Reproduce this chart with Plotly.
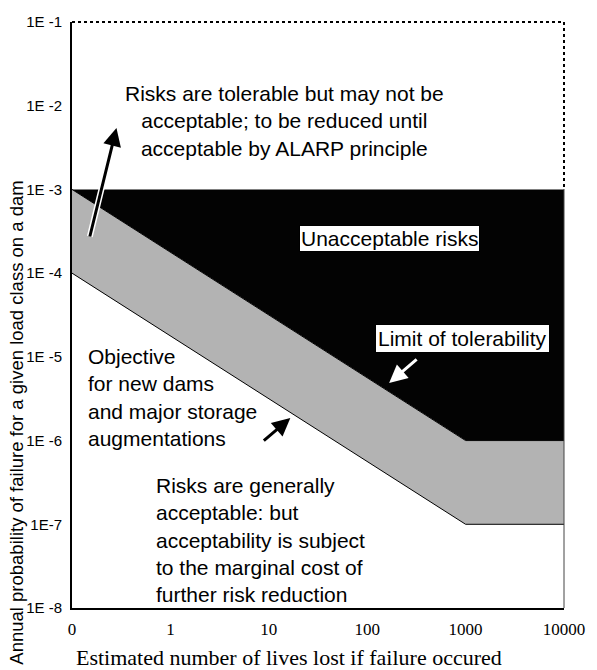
import plotly.graph_objects as go

# ---- data ----
lives = [0.1, 1000, 10000]               # x breakpoints (0 shown at 0.1 on log axis)
unacceptable_top = [1e-3, 1e-3, 1e-3]    # top of shaded zone
limit_tolerability = [1e-3, 1e-6, 1e-6]  # limit of tolerability
objective_line = [1e-4, 1e-7, 1e-7]      # objective for new dams

x_major = [0.1, 1, 10, 100, 1000, 10000]
x_major_text = ["0", "1", "10", "100", "1000", "10000"]
y_major = [1e-8, 1e-7, 1e-6, 1e-5, 1e-4, 1e-3, 1e-2, 1e-1]
y_major_text = ["1E -8", "1E-7", "1E -6", "1E -5", "1E -4", "1E -3", "1E -2", "1E -1"]

W, H = 597, 670
L, R, T, B = 72, 570, 22, 608
PW, PH = R - L, B - T


def px(x):
    return (x - L) / PW


def py(y):
    return (B - y) / PH


# major + minor ticks in one array (minor ticks unlabeled)
x_tickvals, x_ticktext = [], []
for v, t in zip(x_major, x_major_text):
    x_tickvals.append(v)
    x_ticktext.append(t)
    if v < 10000:
        for m in range(2, 10):
            x_tickvals.append(v * m)
            x_ticktext.append("")
y_tickvals, y_ticktext = [], []
y_minor = []
for v, t in zip(y_major, y_major_text):
    y_tickvals.append(v)
    y_ticktext.append(t)
    if v < 1e-1:
        for m in range(2, 10):
            y_tickvals.append(v * m)
            y_ticktext.append("")
            y_minor.append(v * m)

fig = go.Figure()
fig.add_trace(go.Scatter(x=lives, y=unacceptable_top, mode="lines",
                         line=dict(width=0, color="black"), hoverinfo="skip", showlegend=False))
fig.add_trace(go.Scatter(x=lives, y=limit_tolerability, mode="lines", fill="tonexty",
                         fillcolor="#030303", line=dict(width=1, color="#030303"),
                         hoverinfo="skip", showlegend=False))
fig.add_trace(go.Scatter(x=lives, y=objective_line, mode="lines", fill="tonexty",
                         fillcolor="#b3b3b3", line=dict(width=1, color="black"),
                         hoverinfo="skip", showlegend=False))

# outward tick marks: line markers on hidden overlay axes, offset just outside the axis lines
XT_LEN, YT_MAJ, YT_MIN = 10, 10, 8
fig.add_trace(go.Scatter(x=x_tickvals, y=[-(XT_LEN / 2) / PH] * len(x_tickvals),
                         xaxis="x", yaxis="y2", mode="markers",
                         marker=dict(symbol="line-ns", size=XT_LEN, color="black",
                                     line=dict(width=2, color="black")),
                         cliponaxis=False, hoverinfo="skip", showlegend=False))
fig.add_trace(go.Scatter(x=[-(YT_MAJ / 2) / PW] * len(y_major), y=y_major,
                         xaxis="x2", yaxis="y", mode="markers",
                         marker=dict(symbol="line-ew", size=YT_MAJ, color="black",
                                     line=dict(width=2, color="black")),
                         cliponaxis=False, hoverinfo="skip", showlegend=False))
fig.add_trace(go.Scatter(x=[-(YT_MIN / 2) / PW] * len(y_minor), y=y_minor,
                         xaxis="x2", yaxis="y", mode="markers",
                         marker=dict(symbol="line-ew", size=YT_MIN, color="black",
                                     line=dict(width=1.5, color="black")),
                         cliponaxis=False, hoverinfo="skip", showlegend=False))

sans = "Liberation Sans, Arial, sans-serif"
serif = "Liberation Serif, Times New Roman, serif"

fig.update_layout(
    width=W, height=H,
    margin=dict(l=L, r=W - R, t=T, b=H - B),
    paper_bgcolor="white", plot_bgcolor="white",
    showlegend=False,
    xaxis=dict(type="log", range=[-1, 4], showgrid=False, zeroline=False,
               showline=True, linecolor="black", linewidth=2,
               ticks="outside", ticklen=5, tickwidth=2, tickcolor="rgba(0,0,0,0)",
               tickmode="array", tickvals=x_tickvals, ticktext=x_ticktext,
               tickfont=dict(family=serif, size=17, color="black")),
    yaxis=dict(type="log", range=[-8, -1], showgrid=False, zeroline=False,
               showline=True, linecolor="black", linewidth=2,
               ticks="outside", ticklen=5, tickwidth=1.5, tickcolor="rgba(0,0,0,0)",
               tickmode="array", tickvals=y_tickvals, ticktext=y_ticktext,
               tickfont=dict(family=sans, size=15, color="black")),
    xaxis2=dict(overlaying="x", range=[0, 1], visible=False, fixedrange=True),
    yaxis2=dict(overlaying="y", range=[0, 1], visible=False, fixedrange=True),
)

# dotted frame top and right (above 1E-3), solid thin right edge below
fig.add_shape(type="line", xref="paper", yref="paper", x0=0, x1=1, y0=1, y1=1,
              line=dict(color="black", width=2, dash="dot"))
fig.add_shape(type="line", xref="paper", yref="paper", x0=1, x1=1, y0=1, y1=py(189),
              line=dict(color="black", width=2, dash="dot"))
fig.add_shape(type="line", xref="paper", yref="paper", x0=1, x1=1, y0=0, y1=py(189),
              line=dict(color="#444444", width=1))

# text annotations
fig.add_annotation(xref="paper", yref="paper", x=px(287), y=py(121),
                   text="Risks are tolerable but may not be<br>acceptable; to be reduced until<br>acceptable by ALARP principle",
                   showarrow=False, align="center", xanchor="center", yanchor="middle",
                   font=dict(family=sans, size=21, color="black"))
fig.add_annotation(xref="paper", yref="paper", x=px(393), y=py(238),
                   text="Unacceptable risks", showarrow=False,
                   xanchor="center", yanchor="middle",
                   bgcolor="white", bordercolor="black", borderwidth=1, borderpad=1,
                   font=dict(family=sans, size=21, color="black"))
fig.add_annotation(xref="paper", yref="paper", x=px(467), y=py(339),
                   text="Limit of tolerability", showarrow=False,
                   xanchor="center", yanchor="middle",
                   bgcolor="white", bordercolor="black", borderwidth=1, borderpad=2,
                   font=dict(family=sans, size=21, color="black"))
fig.add_annotation(xref="paper", yref="paper", x=px(86), y=py(397),
                   text="Objective<br>for new dams<br>and major storage<br>augmentations",
                   showarrow=False, align="left", xanchor="left", yanchor="middle",
                   font=dict(family=sans, size=21, color="black"))
fig.add_annotation(xref="paper", yref="paper", x=px(155), y=py(540),
                   text="Risks are generally<br>acceptable: but<br>acceptability is subject<br>to the marginal cost of<br>further risk reduction",
                   showarrow=False, align="left", xanchor="left", yanchor="middle",
                   font=dict(family=sans, size=21, color="black"))

# arrows
fig.add_annotation(xref="paper", yref="paper", x=px(117), y=py(128), ax=-27, ay=110,
                   text="", showarrow=True, arrowhead=2, arrowsize=1, arrowwidth=6, arrowcolor="white")
fig.add_annotation(xref="paper", yref="paper", x=px(117), y=py(128), ax=-27, ay=110,
                   text="", showarrow=True, arrowhead=2, arrowsize=1.2, arrowwidth=3, arrowcolor="black")
fig.add_annotation(xref="paper", yref="paper", x=px(393), y=py(383), ax=29, ay=-25,
                   text="", showarrow=True, arrowhead=2, arrowsize=1.2, arrowwidth=3, arrowcolor="white")
fig.add_annotation(xref="paper", yref="paper", x=px(293), y=py(418), ax=-28, ay=24,
                   text="", showarrow=True, arrowhead=2, arrowsize=1.2, arrowwidth=3, arrowcolor="black")

# axis titles
fig.add_annotation(xref="paper", yref="paper", x=px(292), y=py(657),
                   text="Estimated number of lives lost if failure occured", showarrow=False,
                   xanchor="center", yanchor="middle",
                   font=dict(family=serif, size=22, color="black"))
fig.add_annotation(xref="paper", yref="paper", x=px(15), y=py(423),
                   text="Annual probability of failure for a given load class on a dam", showarrow=False,
                   textangle=-90, xanchor="center", yanchor="middle",
                   font=dict(family=sans, size=18.5, color="black"))

fig.write_html("out.html")
